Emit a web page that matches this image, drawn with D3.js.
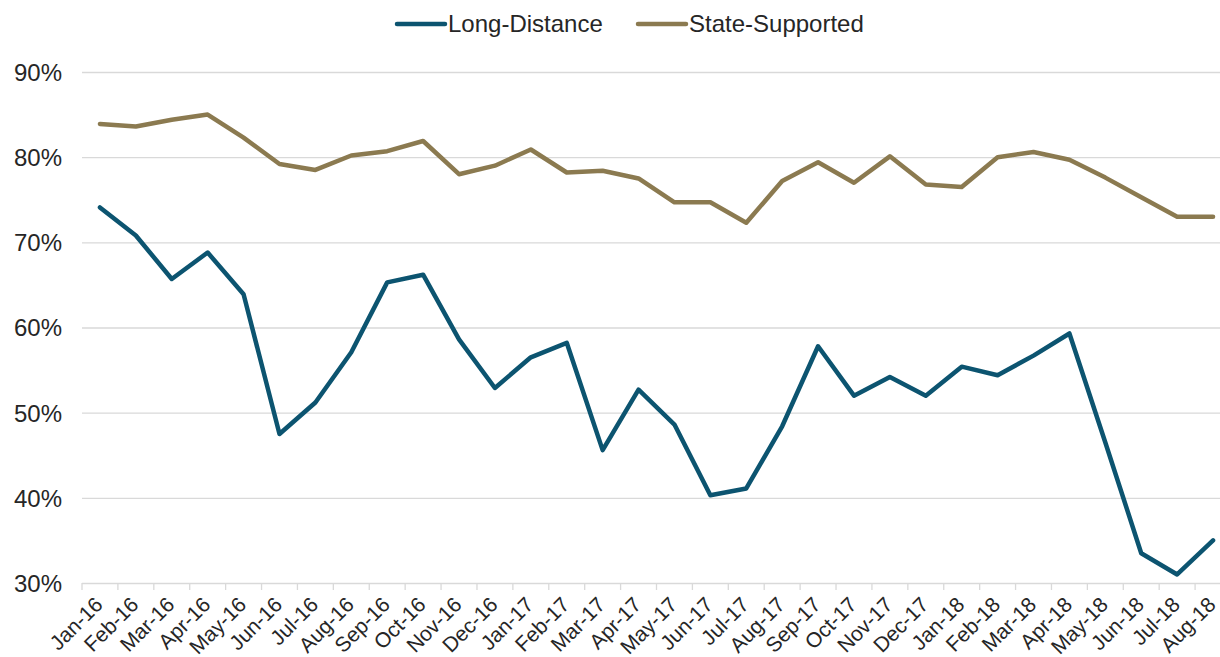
<!DOCTYPE html>
<html>
<head>
<meta charset="utf-8">
<script src="https://cdn.jsdelivr.net/npm/d3@7"></script>
<style>
  body { margin: 0; background: #fff; }
  text { font-family: "Liberation Sans", Arial, sans-serif; fill: #262626; }
  .grid line { stroke: #d9d9d9; stroke-width: 1.3; }
  .grid .domain { display: none; }
  .line { fill: none; stroke-width: 4.5; stroke-linejoin: round; stroke-linecap: round; }
</style>
</head>
<body>
<div id="chart-area"></div>
<script>

// Data
var months = ["Jan-16", "Feb-16", "Mar-16", "Apr-16", "May-16", "Jun-16", "Jul-16", "Aug-16",
    "Sep-16", "Oct-16", "Nov-16", "Dec-16", "Jan-17", "Feb-17", "Mar-17", "Apr-17",
    "May-17", "Jun-17", "Jul-17", "Aug-17", "Sep-17", "Oct-17", "Nov-17", "Dec-17",
    "Jan-18", "Feb-18", "Mar-18", "Apr-18", "May-18", "Jun-18", "Jul-18", "Aug-18"];

var longDistance = [74.1, 70.8, 65.7, 68.8, 63.9, 47.5, 51.2, 57.1,
    65.3, 66.2, 58.6, 52.9, 56.5, 58.2, 45.6, 52.7,
    48.6, 40.3, 41.1, 48.4, 57.8, 52.0, 54.2, 52.0,
    55.4, 54.4, 56.7, 59.3, 46.5, 33.5, 31.0, 35.0];

var stateSupported = [83.9, 83.6, 84.4, 85.0, 82.3, 79.2, 78.5, 80.2,
    80.7, 81.9, 78.0, 79.0, 80.9, 78.2, 78.4, 77.5,
    74.7, 74.7, 72.3, 77.2, 79.4, 77.0, 80.1, 76.8,
    76.5, 80.0, 80.6, 79.7, 77.6, 75.3, 73.0, 73.0];

var yTicks = [30, 40, 50, 60, 70, 80, 90];

var seriesNames = ["Long-Distance", "State-Supported"];
var seriesColors = ["#0c5470", "#8b7a50"];


// SVG drawing area
var width = 1220, height = 657;

var svg = d3.select("#chart-area").append("svg")
    .attr("width", width)
    .attr("height", height);

// Scales
var x = d3.scaleBand()
    .domain(months)
    .range([82, 1231])
    .padding(0);

var y = d3.scaleLinear()
    .domain([30, 90])
    .range([583, 72]);

// Grid + y labels
var yAxis = d3.axisLeft(y)
    .tickValues(yTicks)
    .tickSize(-(width - 82))
    .tickPadding(20)
    .tickFormat(function(d) { return d + "%"; });

svg.append("g")
    .attr("class", "grid")
    .attr("transform", "translate(82,0)")
    .call(yAxis)
    .selectAll("text")
        .style("font-size", "24px")
        .attr("x", -20)
        .attr("dy", "0.35em");

// x tick marks at category boundaries
var bounds = months.map(function(m) { return x(m); }).concat([x.range()[1]]);
svg.append("g")
    .selectAll("line")
    .data(bounds)
    .enter().append("line")
        .attr("x1", function(d) { return d; })
        .attr("x2", function(d) { return d; })
        .attr("y1", y(30))
        .attr("y2", y(30) + 7)
        .attr("stroke", "#d9d9d9")
        .attr("stroke-width", 1.3);

// x labels
svg.append("g")
    .selectAll("text")
    .data(months)
    .enter().append("text")
        .attr("transform", function(d) {
            return "translate(" + (x(d) + x.bandwidth() / 2 + 4) + "," + 606 + ") rotate(-45)";
        })
        .attr("text-anchor", "end")
        .style("font-size", "21px")
        .text(function(d) { return d; });

// Lines
var line = d3.line()
    .x(function(d, i) { return x(months[i]) + x.bandwidth() / 2; })
    .y(function(d) { return y(d); });

[longDistance, stateSupported].forEach(function(vals, i) {
    svg.append("path")
        .attr("class", "line")
        .attr("stroke", seriesColors[i])
        .attr("d", line(vals));
});

// Legend
var legendX = [397, 638];
var legend = svg.append("g");
seriesNames.forEach(function(name, i) {
    legend.append("line")
        .attr("x1", legendX[i])
        .attr("x2", legendX[i] + 48)
        .attr("y1", 24)
        .attr("y2", 24)
        .attr("stroke", seriesColors[i])
        .attr("stroke-width", 4.5)
        .attr("stroke-linecap", "round");
    legend.append("text")
        .attr("x", legendX[i] + 51)
        .attr("y", 24)
        .attr("dy", "0.35em")
        .style("font-size", "24px")
        .text(name);
});

</script>
</body>
</html>
